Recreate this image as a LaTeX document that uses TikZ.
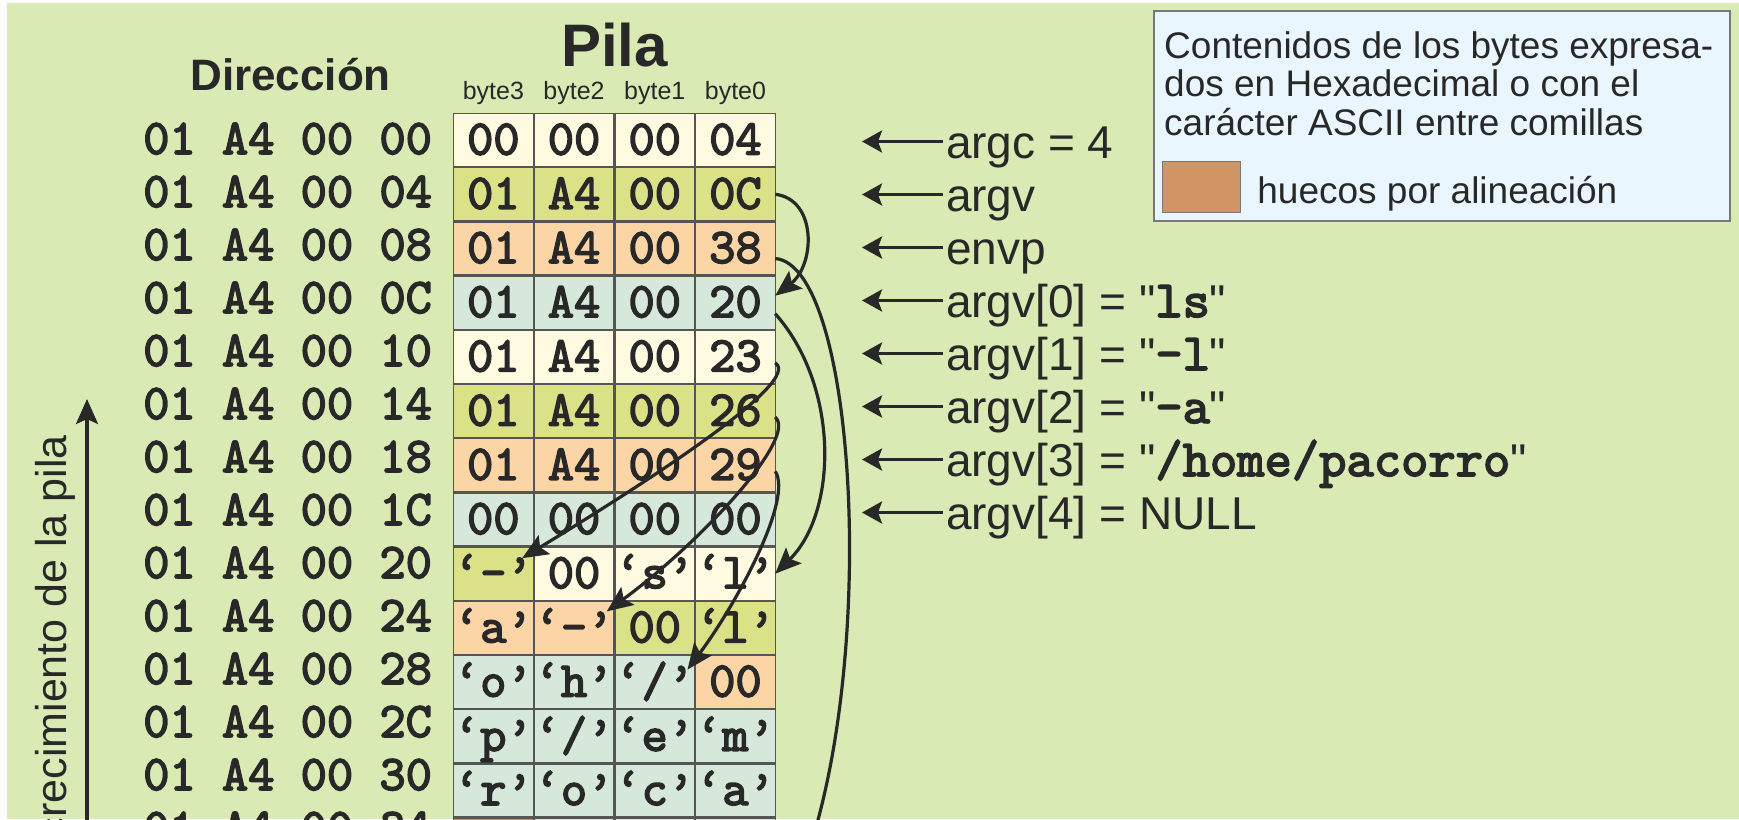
\documentclass[tikz,border=0pt]{standalone}
\usepackage{fontspec}
\setmainfont{Liberation Sans}[Ligatures=TeXOff]
\setmonofont{lmmono10-regular}[Extension=.otf, AutoFakeBold=3]
\usetikzlibrary{matrix}
\usetikzlibrary{positioning}
\usetikzlibrary{arrows.meta}
\definecolor{fondo}{RGB}{218,234,180}
\definecolor{tinta}{RGB}{40,40,40}
\definecolor{borde}{RGB}{85,85,85}
\definecolor{crema}{RGB}{255,250,224}
\definecolor{oliva}{RGB}{218,225,135}
\definecolor{melocoton}{RGB}{251,213,166}
\definecolor{verdeagua}{RGB}{214,232,217}
\definecolor{hueco}{RGB}{209,148,99}
\definecolor{azulley}{RGB}{234,246,253}
\definecolor{bordeley}{RGB}{120,120,120}

\begin{document}
\begin{tikzpicture}[x=1pt, y=-1pt,
    celda/.style={draw=borde, line width=1.2pt, minimum width=79.5pt, minimum height=53pt,
      inner sep=0pt, outer sep=0pt, text height=29pt, text depth=0pt, text=tinta,
      font=\fontsize{50}{56}\selectfont\ttfamily\bfseries},
    direc/.style={inner sep=0pt, minimum height=53pt, text height=29pt, text depth=0pt,
      text=tinta, font=\fontsize{50}{56}\selectfont\ttfamily\bfseries},
    etiq/.style={anchor=base west, inner xsep=3pt, inner ysep=0pt, minimum height=53pt,
      text height=33pt, text depth=0pt, text=tinta, font=\fontsize{46}{52}\selectfont},
    flecha/.style={draw=tinta, line width=3.2pt, -{Stealth[length=20pt, width=22pt, inset=4pt]}},
    puntero/.style={draw=tinta, line width=3.2pt, -{Stealth[length=26pt, width=22pt, inset=5pt]}}]
        \useasboundingbox (0,0) rectangle (1739,819);
        \clip (0,0) rectangle (1739,819);
        \fill [fondo] (7,3) rectangle (1739,819);
        %
        \matrix (pila) [matrix of nodes, anchor=north west, inner sep=0pt, outer sep=0pt,
          nodes={celda}, nodes in empty cells,
          row 1/.style={nodes={fill=crema}}, row 2/.style={nodes={fill=oliva}},
          row 3/.style={nodes={fill=melocoton}}, row 4/.style={nodes={fill=verdeagua}},
          row 5/.style={nodes={fill=crema}}, row 6/.style={nodes={fill=oliva}},
          row 7/.style={nodes={fill=melocoton}}, row 8/.style={nodes={fill=verdeagua}},
          row 9/.style={nodes={fill=crema}}, row 10/.style={nodes={fill=melocoton}},
          row 11/.style={nodes={fill=verdeagua}}, row 12/.style={nodes={fill=verdeagua}},
          row 13/.style={nodes={fill=verdeagua}}, row 14/.style={nodes={fill=verdeagua}}]
          at (453,113) {
          00 & 00 & 00 & 04 \\
          01 & A4 & 00 & 0C \\
          01 & A4 & 00 & 38 \\
          01 & A4 & 00 & 20 \\
          01 & A4 & 00 & 23 \\
          01 & A4 & 00 & 26 \\
          01 & A4 & 00 & 29 \\
          00 & 00 & 00 & 00 \\
          |[fill=oliva]| ‘-’ & 00 & ‘s’ & ‘l’ \\
          ‘a’ & ‘-’ & |[fill=oliva]| 00 & |[fill=oliva]| ‘l’ \\
          ‘o’ & ‘h’ & ‘/’ & |[fill=melocoton]| 00 \\
          ‘p’ & ‘/’ & ‘e’ & ‘m’ \\
          ‘r’ & ‘o’ & ‘c’ & ‘a’ \\
          |[fill=hueco]| & 00 & ‘o’ & ‘r’ \\
        };
        %
        \matrix (dir) [matrix of nodes, anchor=north east, inner sep=0pt, outer sep=0pt,
          nodes={direc}] at (432,113) {
          01 A4 00 00 \\ 01 A4 00 04 \\ 01 A4 00 08 \\ 01 A4 00 0C \\
          01 A4 00 10 \\ 01 A4 00 14 \\ 01 A4 00 18 \\ 01 A4 00 1C \\
          01 A4 00 20 \\ 01 A4 00 24 \\ 01 A4 00 28 \\ 01 A4 00 2C \\
          01 A4 00 30 \\ 01 A4 00 34 \\
        };
        %
        \node [anchor=base, inner sep=0pt, text=tinta, font=\fontsize{60}{66}\selectfont\bfseries]
          (tpila) at ([yshift=47pt]pila.north) {Pila};
        \node [anchor=base, inner sep=0pt, text=tinta, font=\fontsize{44}{50}\selectfont\bfseries]
          (tdir) at ([xshift=3pt,yshift=23pt]dir.north) {Dirección};
        \node [anchor=base, inner sep=0pt, text=tinta, font=\fontsize{25}{30}\selectfont]
          (b3) at ([yshift=14pt]pila-1-1.north) {byte3};
        \node [anchor=base, inner sep=0pt, text=tinta, font=\fontsize{25}{30}\selectfont]
          (b2) at ([yshift=14pt]pila-1-2.north) {byte2};
        \node [anchor=base, inner sep=0pt, text=tinta, font=\fontsize{25}{30}\selectfont]
          (b1) at ([yshift=14pt]pila-1-3.north) {byte1};
        \node [anchor=base, inner sep=0pt, text=tinta, font=\fontsize{25}{30}\selectfont]
          (b0) at ([yshift=14pt]pila-1-4.north) {byte0};
        %
        \matrix (lbl) [matrix of nodes, anchor=north west, inner sep=0pt, outer sep=0pt,
          nodes={etiq}] at (943,115) {
          argc = 4 \\
          argv \\
          envp \\
          argv[0] = "{\fontsize{52}{56}\ttfamily\bfseries ls}" \\
          argv[1] = "{\fontsize{52}{56}\ttfamily\bfseries -l}" \\
          argv[2] = "{\fontsize{52}{56}\ttfamily\bfseries -a}" \\
          argv[3] = "{\fontsize{52}{56}\ttfamily\bfseries /home/pacorro}" \\
          argv[4] = NULL \\
        };
        \coordinate (puntas) at (862,0);
        \draw [flecha] (lbl-1-1.west) -- (lbl-1-1.west -| puntas);
        \draw [flecha] (lbl-2-1.west) -- (lbl-2-1.west -| puntas);
        \draw [flecha] (lbl-3-1.west) -- (lbl-3-1.west -| puntas);
        \draw [flecha] (lbl-4-1.west) -- (lbl-4-1.west -| puntas);
        \draw [flecha] (lbl-5-1.west) -- (lbl-5-1.west -| puntas);
        \draw [flecha] (lbl-6-1.west) -- (lbl-6-1.west -| puntas);
        \draw [flecha] (lbl-7-1.west) -- (lbl-7-1.west -| puntas);
        \draw [flecha] (lbl-8-1.west) -- (lbl-8-1.west -| puntas);
        %
        \coordinate (envfin) at (790,900);
        \draw [puntero] (pila-2-4.east) .. controls +(42,5) and +(40,-31) .. ([yshift=7pt]pila-4-4.east);
        \draw [puntero] ([yshift=-10pt]pila-3-4.east) .. controls +(83,7) and +(90,-220) .. (envfin);
        \draw [puntero] ([yshift=-11pt]pila-4-4.east) .. controls +(64,72) and +(63,-62) .. (pila-9-4.east);
        \draw [puntero] ([yshift=-6pt]pila-5-4.east) .. controls +(28,18) and +(128,-78)
          .. ([xshift=-11pt,yshift=-11pt]pila-9-1.north east);
        \draw [puntero] ([yshift=-6pt]pila-6-4.east) .. controls +(23,20) and +(95,-70)
          .. ([xshift=-7pt,yshift=-10pt]pila-10-2.north east);
        \draw [puntero] ([yshift=-6pt]pila-7-4.east) .. controls +(18,27) and +(50,-67)
          .. ([xshift=-7pt,yshift=-14pt]pila-11-3.north east);
        %
        \node [rotate=90, anchor=base east, inner sep=0pt, text=tinta, font=\fontsize{43}{50}\selectfont]
          (crec) at (66,435) {crecimiento de la pila};
        \coordinate (crecini) at (87,900);
        \coordinate (crecfin) at (87,399);
        \draw [draw=tinta, line width=3.2pt, -{Stealth[length=25pt, width=22pt, inset=5pt]}] (crecini) -- (crecfin);
        %
        \node [draw=bordeley, line width=1.5pt, fill=azulley, anchor=north west, inner sep=0pt,
          minimum width=576pt, minimum height=210pt] (ley) at (1153,10) {};
        \node [anchor=north west, align=left, inner sep=0pt, text=tinta, font=\fontsize{37}{38.5}\selectfont]
          (leytxt) at (1164,31) {Contenidos de los bytes expresa-\\dos en Hexadecimal o con el\\carácter ASCII entre comillas};
        \node [draw=bordeley, line width=1.2pt, fill=hueco, anchor=north west, inner sep=0pt,
          minimum width=78pt, minimum height=51pt] (huecoley) at (1162,161) {};
        \node [right=16pt of huecoley, yshift=-7pt, inner sep=0pt, text=tinta, font=\fontsize{37}{42}\selectfont]
          (huecotxt) {huecos por alineación};
      \end{tikzpicture}
\end{document}
